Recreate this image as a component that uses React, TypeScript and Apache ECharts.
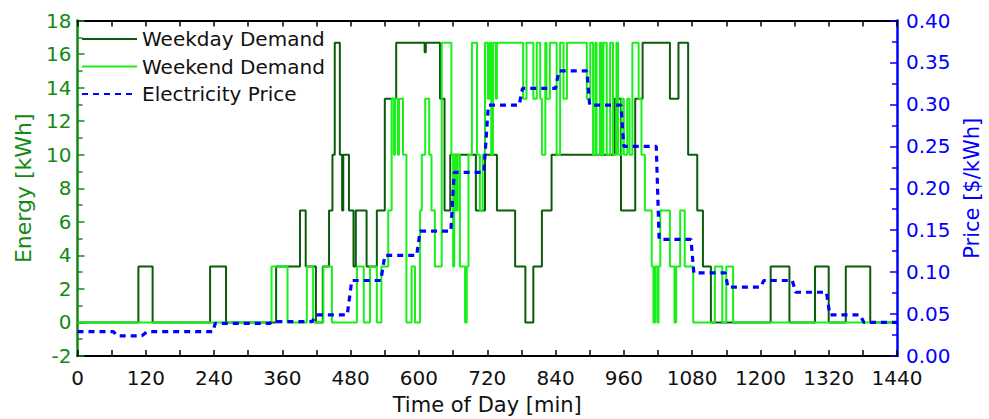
import React, { useEffect, useRef } from "react";
import * as echarts from "echarts";

// [minute, energy kWh] — value holds from this minute until the next entry
const weekdaySteps: [number, number][] = [
  [0, 0], [107, 3.33], [132, 0], [233, 3.33], [261, 0], [349, 3.33], [391, 6.67], [401, 3.33],
  [419, 0], [431, 3.33], [442, 6.67], [448, 10], [452, 16.67], [461, 10], [465, 6.67], [467, 10],
  [477, 6.67], [485, 3.33], [489, 6.67], [508, 3.33], [526, 6.67], [540, 13.33], [560, 16.67],
  [610, 16.1], [612, 16.67], [637, 13.33], [645, 6.67], [655, 10], [700, 6.67], [716, 10],
  [737, 6.67], [769, 3.33], [787, 0], [801, 3.33], [816, 6.67], [833, 10], [944, 13.33],
  [955, 6.67], [980, 13.33], [993, 16.67], [1041, 13.33], [1056, 16.67], [1073, 10], [1089, 6.67],
  [1099, 3.33], [1113, 0], [1218, 3.33], [1251, 0], [1296, 3.33], [1320, 0], [1350, 3.33],
  [1393, 0], [1440, 0],
];

const weekendSteps: [number, number][] = [
  [0, 0], [341, 3.33], [369, 0], [403, 3.33], [414, 0], [432, 3.33], [447, 0], [491, 3.33],
  [503, 0], [514, 3.33], [526, 0], [534, 3.33], [546, 6.67], [552, 13.33], [556, 10], [558, 13.33],
  [563, 10], [565, 13.33], [572, 10], [578, 0], [587, 3.33], [593, 0], [602, 6.67], [605, 10],
  [611, 13.33], [618, 10], [622, 6.67], [628, 3.33], [640, 16.67], [657, 10], [660, 3.33],
  [662, 10], [665, 6.67], [668, 10], [672, 3.33], [681, 0], [684, 3.33], [687, 10], [693, 16.67],
  [702, 10], [707, 6.67], [712, 10], [716, 16.67], [721, 13.33], [724, 16.67], [727, 10],
  [730, 16.67], [735, 13.33], [737, 16.67], [783, 13.33], [789, 16.67], [801, 13.33], [807, 16.67],
  [813, 13.33], [816, 10], [822, 16.67], [824, 13.33], [830, 16.67], [842, 10], [848, 16.67],
  [854, 13.33], [860, 16.67], [895, 13.33], [901, 16.67], [906, 10], [910, 16.67], [912, 10],
  [918, 16.67], [921, 10], [924, 16.67], [930, 10], [936, 16.67], [941, 10], [947, 16.67],
  [950, 10], [956, 13.33], [960, 10], [966, 13.33], [970, 10], [975, 16.67], [986, 13.33],
  [991, 10], [997, 6.67], [1009, 3.33], [1012, 0], [1015, 3.33], [1019, 0], [1021, 3.33],
  [1024, 6.67], [1041, 3.33], [1049, 0], [1052, 3.33], [1059, 6.67], [1067, 3.33], [1082, 0],
  [1120, 3.33], [1133, 0], [1140, 3.33], [1152, 0], [1440, 0],
];

// [minute, price $/kWh]
const priceCurve: [number, number][] = [
  [0, 0.029], [63, 0.029], [70, 0.024], [113, 0.024], [122, 0.029], [238, 0.029], [242, 0.039],
  [338, 0.039], [344, 0.041], [412, 0.041], [420, 0.049], [474, 0.049], [482, 0.09], [533, 0.09],
  [540, 0.12], [596, 0.12], [602, 0.149], [656, 0.149], [662, 0.219], [714, 0.219], [722, 0.299],
  [776, 0.299], [782, 0.319], [840, 0.319], [846, 0.34], [895, 0.34], [900, 0.299], [955, 0.299],
  [960, 0.25], [1017, 0.25], [1022, 0.139], [1078, 0.139], [1083, 0.099], [1138, 0.099],
  [1143, 0.082], [1200, 0.082], [1206, 0.09], [1256, 0.09], [1262, 0.076], [1316, 0.076],
  [1322, 0.049], [1375, 0.049], [1382, 0.04], [1440, 0.04],
];

const seriesNames = ["Weekday Demand", "Weekend Demand", "Electricity Price"];

const FONT = "DejaVu Sans, Liberation Sans, Arial, sans-serif";
const GREEN_AXIS = "#138a13";
const BLUE = "#0000ff";

export default function App() {
  const ref = useRef<HTMLDivElement>(null);
  useEffect(() => {
    document.body.style.margin = "0";
    const chart = echarts.init(ref.current!, null, { renderer: "svg" });
    const blackTick = { show: true, inside: true, length: 6, lineStyle: { color: "#000", width: 1.5 } };
    chart.setOption({
      animation: false,
      backgroundColor: "#ffffff",
      textStyle: { fontFamily: FONT },
      grid: { left: 77.5, right: 92, top: 20.5, bottom: 63, containLabel: false, outerBoundsMode: "none" },
      legend: {
        orient: "vertical",
        left: 76,
        top: 24,
        itemWidth: 55,
        itemHeight: 14,
        itemGap: 7.5,
        itemStyle: { opacity: 0 },
        textStyle: { fontSize: 20, color: "#111", fontFamily: FONT },
        data: seriesNames,
      },
      xAxis: [
        {
          type: "value",
          min: 0,
          max: 1440,
          interval: 120,
          name: "Time of Day [min]",
          nameLocation: "middle",
          nameGap: 38,
          nameTextStyle: { fontSize: 21, color: "#111", fontFamily: FONT },
          axisLine: { show: true, onZero: false, lineStyle: { color: "#000", width: 2 } },
          axisTick: blackTick,
          minorTick: { show: true, splitNumber: 2, length: 6, lineStyle: { color: "#000", width: 1.5 } },
          axisLabel: { fontSize: 20, color: "#111", margin: 12, fontFamily: FONT, formatter: (v: number) => String(v) },
          splitLine: { show: false },
        },
        {
          type: "value",
          position: "top",
          min: 0,
          max: 1440,
          interval: 120,
          axisLine: { show: true, onZero: false, lineStyle: { color: "#000", width: 2 } },
          axisTick: blackTick,
          minorTick: { show: true, splitNumber: 2, length: 6, lineStyle: { color: "#000", width: 1.5 } },
          axisLabel: { show: false },
          splitLine: { show: false },
        },
      ],
      yAxis: [
        {
          type: "value",
          min: -2,
          max: 18,
          interval: 2,
          position: "left",
          name: "Energy [kWh]",
          nameLocation: "middle",
          nameGap: 43,
          nameTextStyle: { fontSize: 22, color: GREEN_AXIS, fontFamily: FONT },
          axisLine: { show: true, onZero: false, lineStyle: { color: GREEN_AXIS, width: 2.5 } },
          axisTick: { show: true, inside: true, length: 7, lineStyle: { color: GREEN_AXIS, width: 1.5 } },
          minorTick: { show: true, splitNumber: 2, length: 5, lineStyle: { color: GREEN_AXIS, width: 1.5 } },
          axisLabel: { fontSize: 20, color: GREEN_AXIS, margin: 6, fontFamily: FONT },
          splitLine: { show: false },
        },
        {
          type: "value",
          min: 0,
          max: 0.4,
          interval: 0.05,
          position: "right",
          name: "Price [$/kWh]",
          nameLocation: "middle",
          nameGap: 57,
          nameRotate: 90,
          nameTextStyle: { fontSize: 21, color: BLUE, fontFamily: FONT },
          axisLine: { show: true, onZero: false, lineStyle: { color: BLUE, width: 2.5 } },
          axisTick: { show: true, inside: true, length: 7, lineStyle: { color: BLUE, width: 1.5 } },
          minorTick: { show: true, splitNumber: 2, length: 5, lineStyle: { color: BLUE, width: 1.5 } },
          axisLabel: {
            fontSize: 20,
            color: BLUE,
            margin: 9,
            fontFamily: FONT,
            formatter: (v: number) => v.toFixed(2),
          },
          splitLine: { show: false },
        },
      ],
      series: [
        {
          name: seriesNames[0],
          type: "line",
          step: "end",
          xAxisIndex: 0,
          yAxisIndex: 0,
          showSymbol: false,
          symbol: "none",
          data: weekdaySteps,
          lineStyle: { color: "#0a5c0a", width: 2 },
          itemStyle: { color: "#0a5c0a" },
        },
        {
          name: seriesNames[1],
          type: "line",
          step: "end",
          xAxisIndex: 0,
          yAxisIndex: 0,
          showSymbol: false,
          symbol: "none",
          data: weekendSteps,
          lineStyle: { color: "#19f019", width: 2 },
          itemStyle: { color: "#19f019" },
        },
        {
          name: seriesNames[2],
          type: "line",
          xAxisIndex: 0,
          yAxisIndex: 1,
          showSymbol: false,
          symbol: "none",
          data: priceCurve,
          lineStyle: { color: BLUE, width: 3.2, type: [6, 5] },
          itemStyle: { color: BLUE },
        },
      ],
    });
    return () => chart.dispose();
  }, []);
  return <div ref={ref} style={{ position: "fixed", left: 0, top: 0, width: 989, height: 419 }} />;
}
